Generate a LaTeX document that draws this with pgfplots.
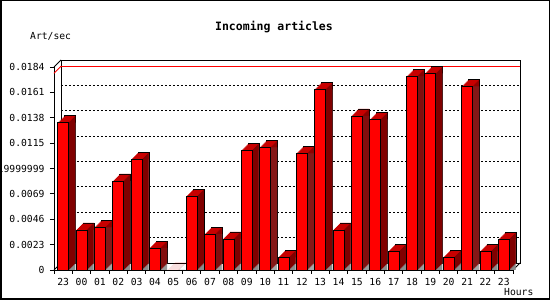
\documentclass[border=0pt]{standalone}
\usepackage{fontspec}
\setmainfont{DejaVu Sans Mono}
\usepackage{pgfplots}
\usepackage{pgfplotstable}
\pgfplotsset{compat=1.18}
\definecolor{barfront}{RGB}{255,0,0}
\definecolor{bartop}{RGB}{200,0,0}
\definecolor{barside}{RGB}{128,0,0}
\definecolor{floorgray}{RGB}{140,140,140}

\pgfplotstableread{
x v
0 0.01335
1 0.00363
2 0.00387
3 0.00807
4 0.01003
5 0.00199
6 0
7 0.00668
8 0.00326
9 0.00281
10 0.01085
11 0.01112
12 0.00115
13 0.01058
14 0.01638
15 0.00363
16 0.01396
17 0.01366
18 0.00169
19 0.01755
20 0.01783
21 0.00115
22 0.01665
23 0.00169
24 0.00278
}\hourdata

\begin{document}
\begin{tikzpicture}[font=\fontsize{9.7}{11}\selectfont]
% back wall with grid
\begin{axis}[at={(61pt,37pt)}, anchor=south west, scale only axis,
  width=459pt, height=203pt, xmin=-0.5, xmax=24.5, ymin=0, ymax=0.0184,
  scaled y ticks=false,
  xtick=\empty, ytick={0.0023,0.0046,0.0069,0.0092,0.0115,0.0138,0.0161},
  yticklabels={}, ymajorgrids, major tick length=0pt,
  major grid style={black, line width=0.9pt, dash pattern=on 2pt off 2pt},
  axis line style={line width=0.9pt}]
\addplot[red, line width=1pt] coordinates {(-0.5,0.01783) (24.5,0.01783)};
\end{axis}
% front axis with bars
\begin{axis}[at={(54pt,30pt)}, anchor=south west, scale only axis,
  width=459pt, height=203pt, xmin=-0.5, xmax=24.5, ymin=0, ymax=0.0184,
  scaled y ticks=false,
  axis lines*=left, axis line style={line width=0.9pt}, clip=false,
  xtick={-0.5,0.5,1.5,2.5,3.5,4.5,5.5,6.5,7.5,8.5,9.5,10.5,11.5,12.5,13.5,14.5,15.5,16.5,17.5,18.5,19.5,20.5,21.5,22.5,23.5,24.5},
  x tick label as interval,
  xticklabels={23,00,01,02,03,04,05,06,07,08,09,10,11,12,13,14,15,16,17,18,19,20,21,22,23},
  ytick={0,0.0023,0.0046,0.0069,0.0092,0.0115,0.0138,0.0161,0.0184},
  yticklabels={0,0.0023,0.0046,0.0069,0.00919999999,0.0115,0.0138,0.0161,0.0184},
  yticklabel style={xshift=-2pt},
  xticklabel style={yshift=-0.5pt},
  tick align=outside, major tick length=4pt,
  tick style={black, line width=0.9pt}]
\draw[red, line width=1pt] (axis cs:-0.5,0.01783) -- ++(7pt,7pt);
\draw[line width=0.9pt] (rel axis cs:0,1) -- ++(7pt,7pt);
\draw[line width=0.9pt] (rel axis cs:1,0) -- ++(7pt,7pt);
\draw[line width=0.9pt] (rel axis cs:0,0) -- ++(7pt,7pt);
% back face of each bar (outlined)
\addplot[ybar, bar width=11pt, fill=bartop, draw=black, line width=0.8pt, xshift=7pt, yshift=7pt] table[x=x,y=v]{\hourdata};
% depth fill
\pgfplotsinvokeforeach{6,5,4,3,2,1}{
  \addplot[ybar, bar width=11pt, fill=bartop, draw=none, xshift=#1pt, yshift=#1pt] table[x=x,y=v]{\hourdata};
}
% floor shadow strips
\pgfplotsinvokeforeach{1,2,3,4,5,6}{
  \addplot[ybar, bar width=1.2pt, bar shift={5pt+#1pt}, fill=floorgray, draw=none] table[x=x,y=v]{\hourdata};
}
\addplot[ybar, bar width=0.6pt, bar shift=11.8pt, fill=floorgray, draw=none] table[x=x,y=v]{\hourdata};
% side face strips
\pgfplotsinvokeforeach{1,2,3,4,5,6}{
  \addplot[ybar, bar width=1.2pt, bar shift={5pt+#1pt}, fill=barside, draw=none, yshift={#1pt-0.5pt}] table[x=x,y=v]{\hourdata};
}
\addplot[ybar, bar width=0.6pt, bar shift=11.8pt, fill=barside, draw=none, yshift=6.5pt] table[x=x,y=v]{\hourdata};
% front faces
\addplot[ybar, bar width=11pt, fill=barfront, draw=black, line width=0.8pt] table[x=x,y=v]{\hourdata};
\end{axis}
\node[anchor=west, inner sep=0pt] at (30pt,263.3pt) {Art/sec};
\node[anchor=west, inner sep=0pt] at (504pt,7.7pt) {Hours};
\node[inner sep=0pt, font=\bfseries\fontsize{11.5}{13}\selectfont] at (274pt,273.3pt) {Incoming articles};
\draw[line width=1.5pt] (0.75pt,0.75pt) rectangle (549.25pt,299.25pt);
\pgfresetboundingbox
\useasboundingbox (0pt,0pt) rectangle (550pt,300pt);
\end{tikzpicture}
\end{document}
